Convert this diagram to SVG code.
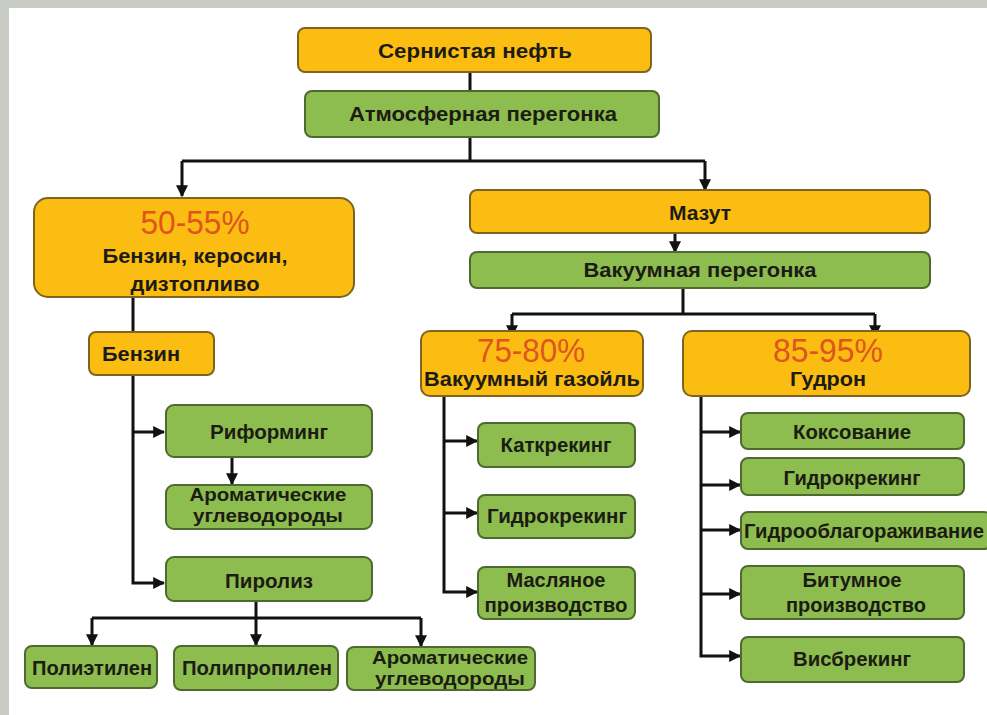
<svg xmlns="http://www.w3.org/2000/svg" width="987" height="715" viewBox="0 0 987 715">
<defs>
<style>
.o{fill:#fbbd12;stroke:#7d6420;stroke-width:2}
.g{fill:#8cbd4e;stroke:#4f6a30;stroke-width:2}
.t{font-family:"Liberation Sans",Arial,sans-serif;font-weight:bold;font-size:20px;fill:#1c1c14;text-anchor:middle}
.s{font-size:18.5px}
.p{font-family:"Liberation Sans",Arial,sans-serif;font-size:33px;fill:#e0541e;text-anchor:middle}
.c{fill:none;stroke:#111;stroke-width:3}
</style>
<marker id="a" viewBox="0 0 10 10" refX="9" refY="5" markerWidth="4" markerHeight="4" orient="auto" markerUnits="strokeWidth"><path d="M0,0 L10,5 L0,10 z" fill="#111"/></marker>
</defs>
<rect width="987" height="715" fill="#c8ccc4"/>
<rect x="9" y="8" width="978" height="707" fill="#ffffff"/>
<g id="connectors">
<path class="c" d="M470,72 V91"/>
<path class="c" d="M470,137 V161 M182,161 H705"/>
<path class="c" d="M182,161 V196" marker-end="url(#a)"/>
<path class="c" d="M705,161 V190" marker-end="url(#a)"/>
<path class="c" d="M675,233 V252" marker-end="url(#a)"/>
<path class="c" d="M683,288 V314 M512,314 H875"/>
<path class="c" d="M512,314 V336" marker-end="url(#a)"/>
<path class="c" d="M875,314 V336" marker-end="url(#a)"/>
<path class="c" d="M133,297 V332"/>
<path class="c" d="M133,375 V583 H164" marker-end="url(#a)"/>
<path class="c" d="M133,432 H164" marker-end="url(#a)"/>
<path class="c" d="M232,457 V484" marker-end="url(#a)"/>
<path class="c" d="M256,601 V618 M92,618 H421"/>
<path class="c" d="M92,618 V645" marker-end="url(#a)"/>
<path class="c" d="M256,618 V645" marker-end="url(#a)"/>
<path class="c" d="M421,618 V646" marker-end="url(#a)"/>
<path class="c" d="M444,396 V592 H477" marker-end="url(#a)"/>
<path class="c" d="M444,441 H477" marker-end="url(#a)"/>
<path class="c" d="M444,513 H477" marker-end="url(#a)"/>
<path class="c" d="M701,396 V656 H740" marker-end="url(#a)"/>
<path class="c" d="M701,432 H740" marker-end="url(#a)"/>
<path class="c" d="M701,485 H740" marker-end="url(#a)"/>
<path class="c" d="M701,530 H740" marker-end="url(#a)"/>
<path class="c" d="M701,594 H740" marker-end="url(#a)"/>
</g>
<g id="n1"><rect class="o" x="298" y="28" width="353" height="44" rx="7"/><text class="t" x="475" y="58" textLength="194" lengthAdjust="spacingAndGlyphs">Сернистая нефть</text></g>
<g id="n2"><rect class="g" x="305" y="91" width="354" height="46" rx="7"/><text class="t" x="483" y="121" textLength="268" lengthAdjust="spacingAndGlyphs">Атмосферная перегонка</text></g>
<g id="n3"><rect class="o" x="34" y="198" width="320" height="99" rx="14"/><text class="p" x="195" y="234" textLength="109" lengthAdjust="spacingAndGlyphs">50-55%</text><text class="t" x="195" y="263" textLength="185" lengthAdjust="spacingAndGlyphs">Бензин, керосин,</text><text class="t" x="195" y="291" textLength="129" lengthAdjust="spacingAndGlyphs">дизтопливо</text></g>
<g id="n4"><rect class="o" x="470" y="190" width="460" height="43" rx="7"/><text class="t" x="700" y="220" textLength="62" lengthAdjust="spacingAndGlyphs">Мазут</text></g>
<g id="n5"><rect class="g" x="470" y="252" width="460" height="36" rx="7"/><text class="t" x="700" y="277" textLength="233" lengthAdjust="spacingAndGlyphs">Вакуумная перегонка</text></g>
<g id="n6"><rect class="o" x="421" y="331" width="222" height="65" rx="9"/><text class="p" x="531" y="362" textLength="108" lengthAdjust="spacingAndGlyphs">75-80%</text><text class="t" x="532" y="386" textLength="216" lengthAdjust="spacingAndGlyphs">Вакуумный газойль</text></g>
<g id="n7"><rect class="o" x="683" y="331" width="287" height="65" rx="9"/><text class="p" x="828" y="362" textLength="110" lengthAdjust="spacingAndGlyphs">85-95%</text><text class="t" x="828" y="386" textLength="76" lengthAdjust="spacingAndGlyphs">Гудрон</text></g>
<g id="n8"><rect class="o" x="89" y="332" width="125" height="43" rx="7"/><text class="t" x="141" y="361" textLength="78" lengthAdjust="spacingAndGlyphs">Бензин</text></g>
<g id="n9"><rect class="g" x="166" y="405" width="206" height="52" rx="8"/><text class="t" x="269" y="439" textLength="118" lengthAdjust="spacingAndGlyphs">Риформинг</text></g>
<g id="n10"><rect class="g" x="166" y="485" width="206" height="44" rx="8"/><text class="t s" x="268" y="501" textLength="157" lengthAdjust="spacingAndGlyphs">Ароматические</text><text class="t s" x="268" y="522" textLength="150" lengthAdjust="spacingAndGlyphs">углеводороды</text></g>
<g id="n11"><rect class="g" x="166" y="557" width="206" height="44" rx="8"/><text class="t" x="269" y="588" textLength="88" lengthAdjust="spacingAndGlyphs">Пиролиз</text></g>
<g id="n12"><rect class="g" x="25" y="646" width="132" height="42" rx="7"/><text class="t" x="92" y="675" textLength="120" lengthAdjust="spacingAndGlyphs">Полиэтилен</text></g>
<g id="n13"><rect class="g" x="174" y="646" width="164" height="44" rx="7"/><text class="t" x="257" y="675" textLength="150" lengthAdjust="spacingAndGlyphs">Полипропилен</text></g>
<g id="n14"><rect class="g" x="347" y="647" width="188" height="43" rx="7"/><text class="t s" x="450" y="664" textLength="156" lengthAdjust="spacingAndGlyphs">Ароматические</text><text class="t s" x="450" y="685" textLength="150" lengthAdjust="spacingAndGlyphs">углеводороды</text></g>
<g id="n15"><rect class="g" x="478" y="423" width="157" height="44" rx="7"/><text class="t" x="556" y="452" textLength="111" lengthAdjust="spacingAndGlyphs">Каткрекинг</text></g>
<g id="n16"><rect class="g" x="478" y="495" width="157" height="43" rx="7"/><text class="t" x="557" y="523" textLength="140" lengthAdjust="spacingAndGlyphs">Гидрокрекинг</text></g>
<g id="n17"><rect class="g" x="478" y="567" width="157" height="52" rx="7"/><text class="t" x="556" y="587" textLength="99" lengthAdjust="spacingAndGlyphs">Масляное</text><text class="t" x="556" y="612" textLength="143" lengthAdjust="spacingAndGlyphs">производство</text></g>
<g id="n18"><rect class="g" x="741" y="413" width="223" height="36" rx="7"/><text class="t" x="852" y="439" textLength="118" lengthAdjust="spacingAndGlyphs">Коксование</text></g>
<g id="n19"><rect class="g" x="741" y="458" width="223" height="37" rx="7"/><text class="t" x="852" y="485" textLength="137" lengthAdjust="spacingAndGlyphs">Гидрокрекинг</text></g>
<g id="n20"><rect class="g" x="741" y="512" width="250" height="37" rx="7"/><text class="t" x="864" y="538" textLength="240" lengthAdjust="spacingAndGlyphs">Гидрооблагораживание</text></g>
<g id="n21"><rect class="g" x="741" y="566" width="223" height="53" rx="7"/><text class="t" x="852" y="587" textLength="99" lengthAdjust="spacingAndGlyphs">Битумное</text><text class="t" x="856" y="612" textLength="140" lengthAdjust="spacingAndGlyphs">производство</text></g>
<g id="n22"><rect class="g" x="741" y="637" width="223" height="45" rx="7"/><text class="t" x="852" y="666" textLength="118" lengthAdjust="spacingAndGlyphs">Висбрекинг</text></g>
</svg>
